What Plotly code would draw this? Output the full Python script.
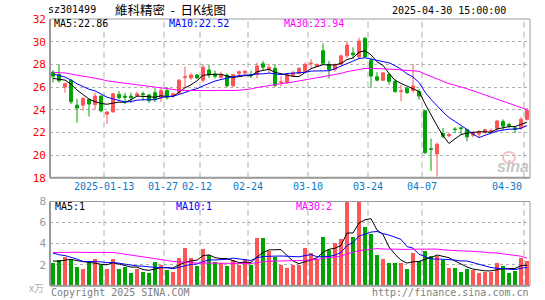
import plotly.graph_objects as go
import pandas as pd

# ---------------- data ----------------
dates = [
    "2024-12-30", "2024-12-31",
    "2025-01-02", "2025-01-03", "2025-01-06", "2025-01-07", "2025-01-08", "2025-01-09", "2025-01-10",
    "2025-01-13", "2025-01-14", "2025-01-15", "2025-01-16", "2025-01-17", "2025-01-20", "2025-01-21",
    "2025-01-22", "2025-01-23", "2025-01-24", "2025-01-27",
    "2025-02-05", "2025-02-06", "2025-02-07", "2025-02-10", "2025-02-11", "2025-02-12", "2025-02-13",
    "2025-02-14", "2025-02-17", "2025-02-18", "2025-02-19", "2025-02-20", "2025-02-21", "2025-02-24",
    "2025-02-25", "2025-02-26", "2025-02-27", "2025-02-28",
    "2025-03-03", "2025-03-04", "2025-03-05", "2025-03-06", "2025-03-07", "2025-03-10", "2025-03-11",
    "2025-03-12", "2025-03-13", "2025-03-14", "2025-03-17", "2025-03-18", "2025-03-19", "2025-03-20",
    "2025-03-21", "2025-03-24", "2025-03-25", "2025-03-26", "2025-03-27", "2025-03-28", "2025-03-31",
    "2025-04-01", "2025-04-02", "2025-04-03", "2025-04-07", "2025-04-08", "2025-04-09", "2025-04-10",
    "2025-04-11", "2025-04-14", "2025-04-15", "2025-04-16", "2025-04-17", "2025-04-18", "2025-04-21",
    "2025-04-22", "2025-04-23", "2025-04-24", "2025-04-25", "2025-04-28", "2025-04-29", "2025-04-30",
]

opens = [27.3, 27.1, 26.0, 26.6, 24.4, 24.4, 24.9, 24.45, 25.2, 23.6,
         23.8, 25.35, 25.2, 25.2, 25.25, 25.4, 25.3, 25.5, 25.05, 25.7,
         25.2, 25.5, 26.85, 26.8, 27.05, 26.6, 27.5, 27.15, 26.85, 27.05,
         26.1, 27.2, 27.25, 27.1, 27.1, 28.05, 27.55, 27.65, 26.4, 26.4,
         27.0, 27.2, 27.35, 28.05, 27.8, 29.2, 28.0, 27.55, 28.0, 28.75,
         29.0, 28.65, 30.3, 28.35, 26.9, 26.6, 27.1, 26.5, 25.6, 25.9,
         25.7, 25.6, 23.9, 20.55, 20.1, 21.9, 21.7, 22.3, 22.4, 22.25,
         21.75, 21.85, 22.0, 22.05, 22.35, 22.95, 22.7, 22.4, 22.4, 23.15]
highs = [27.5, 28.0, 26.4, 26.7, 24.95, 25.1, 25.0, 25.5, 25.25, 23.85,
         25.45, 25.65, 25.5, 25.5, 25.6, 25.6, 25.35, 25.9, 25.9, 26.0,
         25.45, 26.7, 27.8, 27.25, 27.15, 28.0, 27.95, 27.45, 27.35, 27.2,
         27.15, 27.45, 27.45, 27.45, 28.15, 28.3, 28.0, 28.0, 26.95, 27.25,
         27.45, 27.75, 28.15, 28.45, 28.05, 29.85, 28.3, 28.05, 28.85, 30.05,
         29.5, 30.35, 30.4, 28.6, 27.3, 27.3, 27.25, 26.7, 26.2, 26.0,
         28.0, 25.8, 23.95, 21.45, 21.1, 22.4, 21.95, 22.45, 22.45, 22.3,
         22.1, 22.2, 22.3, 22.35, 23.1, 23.15, 22.85, 22.55, 23.35, 24.15]
lows = [26.4, 26.4, 25.5, 24.5, 22.85, 23.9, 23.4, 24.0, 23.75, 22.75,
        23.75, 24.9, 24.5, 24.6, 25.2, 24.8, 24.6, 24.7, 24.7, 24.9,
        25.05, 25.35, 25.95, 26.65, 26.7, 26.4, 26.8, 26.75, 26.75, 26.0,
        26.0, 26.95, 27.1, 26.8, 26.75, 27.45, 27.25, 26.0, 26.05, 26.25,
        26.95, 27.1, 27.25, 27.65, 27.75, 27.95, 26.75, 27.35, 27.95, 28.6,
        28.5, 28.5, 28.6, 25.95, 26.5, 26.55, 26.2, 25.5, 24.75, 25.4,
        25.5, 24.9, 20.1, 18.6, 18.1, 21.5, 21.55, 21.95, 21.85, 21.2,
        21.55, 21.55, 21.85, 21.95, 22.1, 22.2, 22.4, 21.95, 22.2, 23.05]
closes = [26.95, 26.55, 26.3, 24.7, 24.15, 25.0, 24.5, 25.2, 23.9, 23.8,
          25.4, 25.05, 25.1, 25.05, 25.4, 25.35, 24.8, 24.9, 25.7, 25.05,
          25.4, 26.6, 26.9, 27.05, 26.8, 27.75, 27.05, 26.95, 27.05, 26.1,
          27.1, 27.35, 27.4, 27.0, 27.85, 27.75, 27.75, 26.15, 26.45, 27.1,
          27.25, 27.65, 28.0, 28.1, 28.0, 28.1, 27.55, 28.0, 28.75, 29.7,
          28.85, 30.05, 28.65, 26.97, 26.6, 27.25, 26.5, 25.6, 25.65, 25.5,
          26.1, 25.2, 20.2, 20.5, 20.95, 21.65, 21.8, 22.25, 22.35, 21.6,
          22.0, 22.05, 22.25, 22.15, 23.0, 22.55, 22.6, 22.25, 23.15, 23.95]
volumes = [2.2, 2.5, 2.8, 2.6, 1.8, 1.6, 2.2, 2.55, 2.0, 1.6,
           2.55, 1.6, 1.85, 1.25, 1.6, 1.35, 1.25, 2.3, 2.05, 1.5,
           1.35, 2.65, 3.6, 2.65, 1.9, 3.5, 3.0, 2.3, 2.2, 1.9,
           2.5, 2.05, 2.55, 2.05, 4.55, 4.55, 3.3, 2.75, 2.0, 1.7,
           2.0, 2.0, 3.6, 3.15, 2.45, 4.65, 3.45, 4.1, 4.45, 8.4,
           4.65, 8.2, 5.6, 5.0, 3.0, 2.55, 2.2, 2.2, 2.2, 1.6,
           3.15, 2.35, 3.3, 2.9, 2.9, 2.5, 1.7, 1.75, 1.35, 1.6,
           1.5, 1.25, 1.35, 1.35, 2.25, 1.9, 1.25, 1.45, 2.7, 2.4]

# sessions before the visible window (only feed the moving averages at the left edge)
prior_closes = [27.0, 27.4, 27.8, 27.5, 27.2, 26.9, 27.3, 27.6, 27.9, 27.5,
                27.1, 27.3, 27.6, 27.4, 27.2, 27.5, 27.3, 27.0, 27.4, 27.5,
                27.6, 27.8, 27.4, 27.5, 27.3, 27.0, 26.6, 26.5, 26.75]
prior_volumes = [2.0, 2.4, 2.1, 2.3, 2.2, 1.9, 2.5, 2.2, 2.3, 2.1,
                 3.8, 4.5, 4.2, 3.9, 4.6, 4.1, 4.3, 3.9, 4.0, 4.2,
                 4.1, 3.6, 4.0, 3.7, 3.85, 2.6, 2.3, 2.25, 2.4]

tick_dates = ["2025-01-13", "2025-01-27", "2025-02-12", "2025-02-24",
              "2025-03-10", "2025-03-24", "2025-04-07", "2025-04-30"]
tick_labels = ["2025-01-13", "01-27", "02-12", "02-24", "03-10", "03-24", "04-07", "04-30"]
price_ticks = [18, 20, 22, 24, 26, 28, 30, 32]
volume_ticks = [2, 4, 6, 8]

title_code = "sz301499"
title_name = "維科精密\u00a0\u00a0-\u00a0\u00a0日K线图"
stamp = "2025-04-30 15:00:00"
price_ma_labels = ["MA5:22.86", "MA10:22.52", "MA30:23.94"]
volume_ma_labels = ["MA5:1", "MA10:1", "MA30:2"]

# ---------------- styling ----------------
W, H = 545, 300
RED = "#ff5555"
GREEN = "#00a300"
MA_COLORS = ["#000000", "#0000ff", "#ff00ff"]
GRID = "#b0b0b0"
FRAME = "#9a9a9a"
MONO = "DejaVu Sans Mono"
CJK = "Noto Sans CJK SC"
N = len(dates)


def px(x):
    return x / W


def py(y):
    return 1 - y / H


c_all = pd.Series(prior_closes + closes)
v_all = pd.Series(prior_volumes + volumes)
price_ma = [c_all.rolling(w).mean().iloc[-N:].tolist() for w in (5, 10, 30)]
vol_ma = [v_all.rolling(w).mean().iloc[-N:].tolist() for w in (5, 10, 30)]
bar_colors = [RED if c >= o else GREEN for o, c in zip(opens, closes)]

fig = go.Figure()
fig.add_trace(go.Candlestick(
    x=dates, open=opens, high=highs, low=lows, close=closes,
    increasing=dict(line=dict(color=RED, width=1), fillcolor=RED),
    decreasing=dict(line=dict(color=GREEN, width=1), fillcolor=GREEN),
    whiskerwidth=0, xaxis="x", yaxis="y", showlegend=False, hoverinfo="skip"))
for vals, col in zip(price_ma, MA_COLORS):
    fig.add_trace(go.Scatter(x=dates, y=vals, mode="lines", line=dict(color=col, width=1),
                             xaxis="x", yaxis="y", showlegend=False, hoverinfo="skip"))
fig.add_trace(go.Bar(x=dates, y=volumes, marker=dict(color=bar_colors, line=dict(width=0)),
                     width=0.82, xaxis="x2", yaxis="y2", showlegend=False, hoverinfo="skip"))
for vals, col in zip(vol_ma, MA_COLORS):
    fig.add_trace(go.Scatter(x=dates, y=vals, mode="lines", line=dict(color=col, width=1),
                             xaxis="x2", yaxis="y2", showlegend=False, hoverinfo="skip"))

xdom = [px(50), px(530)]
price_dom = [py(177.7), py(19)]
vol_dom = [py(285.7), py(201.5)]

common_x = dict(domain=xdom, type="category", range=[-0.5, N - 0.5], showgrid=False,
                showticklabels=False, showline=False, zeroline=False, fixedrange=True,
                automargin=False)
fig.update_layout(
    width=W, height=H, autosize=False,
    margin=dict(l=0, r=0, t=0, b=0, pad=0),
    paper_bgcolor="white", plot_bgcolor="white",
    bargap=0, showlegend=False,
    xaxis=dict(anchor="y", rangeslider=dict(visible=False), **common_x),
    xaxis2=dict(anchor="y2", matches="x", **common_x),
    yaxis=dict(domain=price_dom, range=[18, 32], tickvals=price_ticks,
               ticktext=[str(t) for t in price_ticks], ticks="", ticklabelstandoff=3,
               tickfont=dict(family=MONO, size=11, color="#ff0000"), automargin=False,
               showgrid=True, gridcolor=GRID, griddash="dot", gridwidth=1,
               zeroline=False, showline=False, anchor="x"),
    yaxis2=dict(domain=vol_dom, range=[0, 8], tickvals=volume_ticks,
                ticktext=[str(t) for t in volume_ticks], ticks="", ticklabelstandoff=3,
                tickfont=dict(family=MONO, size=11, color="#999999"), automargin=False,
                showgrid=True, gridcolor=GRID, griddash="dot", gridwidth=1,
                zeroline=False, showline=False, anchor="x2"),
)

shapes = []
for xr in ("x", "x2"):
    yr = "y domain" if xr == "x" else "y2 domain"
    for d in tick_dates:
        k = dates.index(d) - 0.5
        shapes.append(dict(type="line", xref=xr, yref=yr, x0=k, x1=k, y0=0, y1=1,
                           line=dict(color=GRID, width=1, dash="6px,4px"), layer="below"))
for dom in (price_dom, vol_dom):
    shapes.append(dict(type="rect", xref="paper", yref="paper", x0=xdom[0], x1=xdom[1],
                       y0=dom[0], y1=dom[1], line=dict(color=FRAME, width=1)))
    shapes.append(dict(type="line", xref="paper", yref="paper", x0=xdom[0], x1=xdom[0],
                       y0=dom[0], y1=dom[1], line=dict(color=FRAME, width=2)))
    shapes.append(dict(type="line", xref="paper", yref="paper", x0=xdom[0], x1=xdom[1],
                       y0=dom[0], y1=dom[0], line=dict(color=FRAME, width=2)))
# faint watermark eye of the sina logo
shapes.append(dict(type="circle", xref="paper", yref="paper", x0=px(503), x1=px(515),
                   y0=py(163), y1=py(152), line=dict(color="rgba(230,120,120,0.45)", width=2),
                   fillcolor="rgba(0,0,0,0)", layer="below"))
fig.update_layout(shapes=shapes)

ann = []


def text(t, x, y, color="#000", size=10, family=MONO, xanchor="left", **kw):
    ann.append(dict(text=t, x=px(x), y=py(y), xref="paper", yref="paper", showarrow=False,
                    xanchor=xanchor, yanchor="middle", font=dict(family=family, size=size, color=color), **kw))


text(title_code, 46, 10, size=10)
text(title_name, 113, 9, size=12.5, family=CJK)
text(stamp, 508, 11, size=10, xanchor="right")
for lab, col, x in zip(price_ma_labels, MA_COLORS, (52, 167, 282)):
    text(lab, x, 24, color=col, size=10)
for lab, col, x in zip(volume_ma_labels, MA_COLORS, (53, 174, 294)):
    text(lab, x, 206, color=col, size=10)
text("x万", 36, 287, color="#b0b0b0", size=10, family=CJK, xanchor="center")
text("Copyright 2025 SINA.COM", 49, 292, color="#808080", size=10)
text("http://finance.sina.com.cn", 531, 292, color="#808080", size=10, xanchor="right")
text("<i><b>sina</b></i>", 513, 166, color="rgba(180,180,180,0.75)", size=16,
     family="Liberation Sans", xanchor="center")

label_shift = {"01-27": -1, "02-12": -3}
for d, lab in zip(tick_dates, tick_labels):
    k = dates.index(d) - 0.5
    xa = "right" if d == dates[-1] else "center"
    ann.append(dict(text=lab, x=k, y=py(186), xref="x", yref="paper", showarrow=False,
                    xanchor=xa, yanchor="middle", xshift=label_shift.get(lab, 0),
                    font=dict(family=MONO, size=10, color="#0a78c8")))
fig.update_layout(annotations=ann)

fig.write_html("out.html", config={"displayModeBar": False},
               post_script="document.body.style.margin='0px';document.body.style.overflow='hidden';")
